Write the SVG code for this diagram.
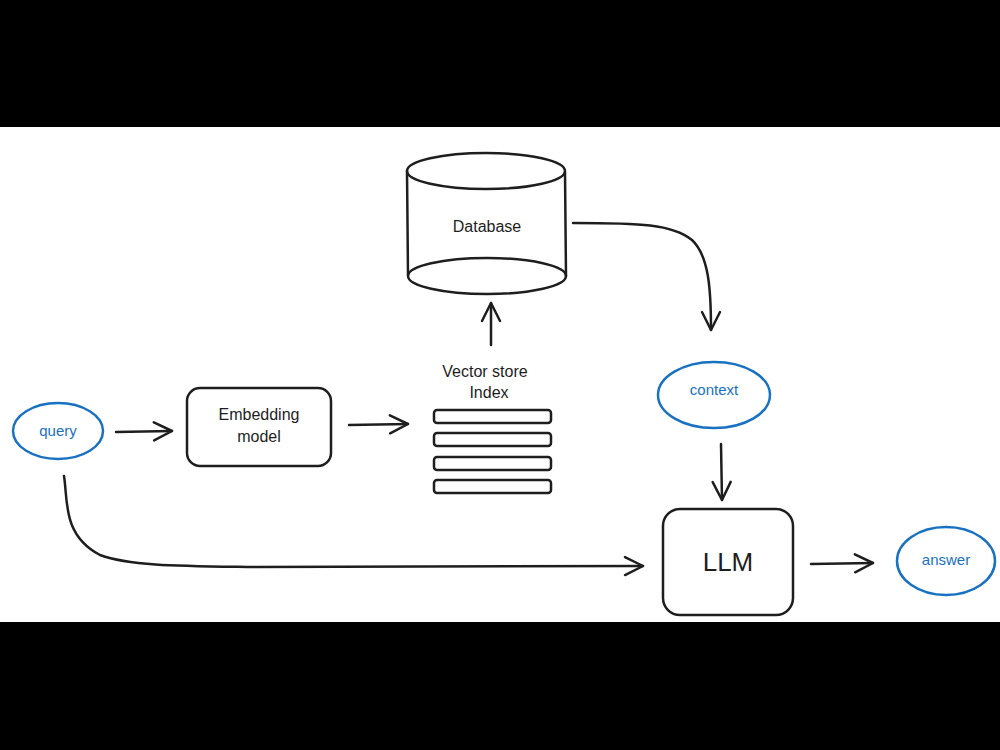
<svg xmlns="http://www.w3.org/2000/svg" width="1000" height="750" viewBox="0 0 1000 750">
<style>
.s{fill:none;stroke:#1e1e1e;stroke-width:2.5;stroke-linecap:round;stroke-linejoin:round}
.b{fill:none;stroke:#1971c2;stroke-width:2.5}
.t{font-family:"Comic Sans MS","Liberation Sans",sans-serif;font-size:16px;fill:#1e1e1e;text-anchor:middle}
.tb{font-family:"Comic Sans MS","Liberation Sans",sans-serif;font-size:15px;fill:#1971c2;text-anchor:middle}
</style>
<defs>
<marker id="ah" viewBox="0 0 22 22" refX="20" refY="11" markerWidth="22" markerHeight="22" markerUnits="userSpaceOnUse" orient="auto">
<path d="M2 2 L20 11 L2 20" fill="none" stroke="#1e1e1e" stroke-width="2.5" stroke-linecap="round" stroke-linejoin="round"/>
</marker>
</defs>
<rect x="0" y="0" width="1000" height="750" fill="#ffffff"/>
<rect x="0" y="0" width="1000" height="127" fill="#000000"/>
<rect x="0" y="622" width="1000" height="128" fill="#000000"/>

<g id="query">
<ellipse cx="58" cy="431" rx="45" ry="28" class="b"/>
<text x="58" y="436" class="tb">query</text>
</g>
<g id="embedding">
<rect x="187" y="388" width="144" height="78" rx="13" class="s"/>
<text x="259" y="420" class="t">Embedding</text>
<text x="259" y="442" class="t">model</text>
</g>
<g id="vectorstore">
<text x="485" y="377" class="t">Vector store</text>
<text x="489" y="398" class="t">Index</text>
<rect x="434" y="410" width="117" height="13" rx="3" class="s"/>
<rect x="434" y="433" width="117" height="13" rx="3" class="s"/>
<rect x="434" y="457" width="117" height="13" rx="3" class="s"/>
<rect x="434" y="480" width="117" height="13" rx="3" class="s"/>
</g>
<g id="database">
<path d="M407 171 L408 275 M565 172 L566 276" class="s"/>
<ellipse cx="486" cy="171" rx="79" ry="18" class="s"/>
<ellipse cx="487" cy="276" rx="79" ry="18" class="s"/>
<text x="487" y="232" class="t">Database</text>
</g>
<g id="context">
<ellipse cx="714" cy="395" rx="56" ry="33" class="b"/>
<text x="714" y="395" class="tb">context</text>
</g>
<g id="llm">
<rect x="663" y="509" width="130" height="106" rx="17" class="s"/>
<text x="728" y="571" class="t" style="font-size:26px">LLM</text>
</g>
<g id="answer">
<ellipse cx="946" cy="561" rx="49" ry="34" class="b"/>
<text x="946" y="565" class="tb">answer</text>
</g>

<g id="connectors">
<path d="M116 432 L172 431" class="s" marker-end="url(#ah)"/>
<path d="M349 425 L408 424" class="s" marker-end="url(#ah)"/>
<path d="M491 345 L491 303" class="s" marker-end="url(#ah)"/>
<path d="M573 223 C640 223 672 224 692 240 C709 256 711 290 711 330" class="s" marker-end="url(#ah)"/>
<path d="M721 444 L722 500" class="s" marker-end="url(#ah)"/>
<path d="M811 564 L873 563" class="s" marker-end="url(#ah)"/>
<path d="M64 476 C68 500 62 535 100 555 C130 566 180 566 250 567 L643 566" class="s" marker-end="url(#ah)"/>
</g>
</svg>
